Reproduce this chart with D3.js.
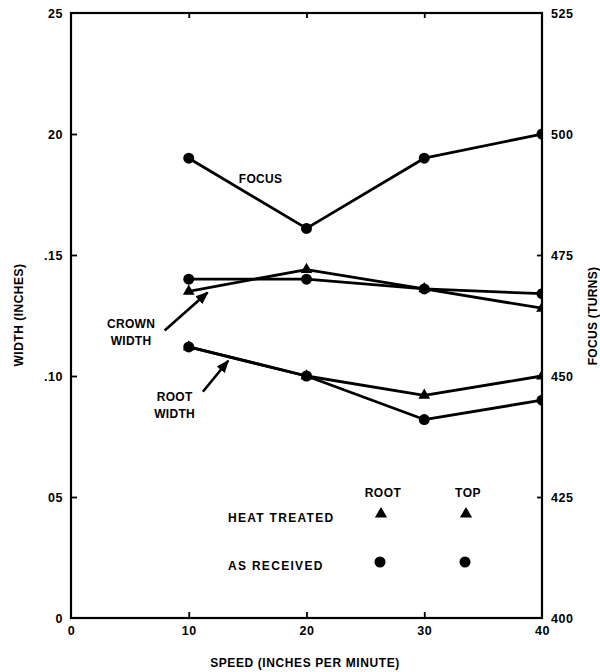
<!DOCTYPE html>
<html><head><meta charset="utf-8">
<script src="https://cdn.jsdelivr.net/npm/d3@7"></script>
<style>
html,body{margin:0;padding:0;background:#fff;}
text{font-family:"Liberation Sans",Arial,sans-serif;font-weight:bold;fill:#000;}
</style></head>
<body><svg id="c" width="600" height="672"></svg>
<script>
// ---- data ----
const speeds = [10, 20, 30, 40];
const focusTurns = [495, 480.5, 495, 500];
const crownAsReceived = [0.140, 0.140, 0.136, 0.134];
const crownHeatTreated = [0.135, 0.144, 0.136, 0.128];
const rootHeatTreated = [0.112, 0.100, 0.092, 0.100];
const rootAsReceived = [0.112, 0.100, 0.082, 0.090];
const xTicks = [0, 10, 20, 30, 40];
const widthTicks = [0, 0.05, 0.10, 0.15, 0.20, 0.25];
const widthTickLabels = ["0", "05", ".10", ".15", "20", "25"];
const focusTicks = [400, 425, 450, 475, 500, 525];
const legendCols = ["ROOT", "TOP"];
const legendRows = ["HEAT TREATED", "AS RECEIVED"];
const xTitle = "SPEED (INCHES PER MINUTE)";
const yTitle = "WIDTH (INCHES)";
const y2Title = "FOCUS (TURNS)";

// ---- layout ----
const L = 71, R = 542, T = 13, B = 618;
const svg = d3.select("#c");
const x = d3.scaleLinear().domain([0, 40]).range([L, R]);
const y = d3.scaleLinear().domain([0, 0.25]).range([B, T]);
const y2 = d3.scaleLinear().domain([400, 525]).range([B, T]);

// frame
svg.append("rect").attr("x", L).attr("y", T).attr("width", R - L).attr("height", B - T)
  .attr("fill", "none").attr("stroke", "#000").attr("stroke-width", 2.2);

function styleAxis(g) {
  g.select(".domain").remove();
  g.selectAll("line").attr("stroke", "#000").attr("stroke-width", 1.8);
  g.selectAll("text").style("font-size", "12.5px").style("letter-spacing", "0.5px").attr("font-family", null);
}
svg.append("g").attr("transform", `translate(${L},0)`)
  .call(d3.axisLeft(y).tickValues(widthTicks).tickFormat((d, i) => widthTickLabels[i]).tickSize(-6).tickPadding(8))
  .call(styleAxis);
svg.append("g").attr("transform", `translate(${R},0)`)
  .call(d3.axisRight(y2).tickValues(focusTicks).tickSize(-5).tickPadding(9))
  .call(styleAxis);
svg.append("g").attr("transform", `translate(0,${B})`)
  .call(d3.axisBottom(x).tickValues(xTicks).tickSize(-6).tickPadding(8))
  .call(styleAxis);
svg.append("g").attr("transform", `translate(0,${T})`)
  .call(d3.axisTop(x).tickValues([10, 20, 30]).tickSize(-5).tickFormat(""))
  .call(styleAxis);
svg.selectAll("g.tick").filter(d => d === 0 || d === 40 || d === 400 || d === 525 || d === 0.25).select("line").remove();

// titles
svg.append("text").attr("x", 305).attr("y", 667).attr("text-anchor", "middle")
  .style("font-size", "12px").style("letter-spacing", "0.6px").text(xTitle);
svg.append("text").attr("transform", "translate(23,315) rotate(-90)").attr("text-anchor", "middle")
  .style("font-size", "12px").style("letter-spacing", "0.5px").text(yTitle);
svg.append("text").attr("transform", "translate(597,316) rotate(-90)").attr("text-anchor", "middle")
  .style("font-size", "12px").style("letter-spacing", "0.3px").text(y2Title);

// clip for markers at right axis
svg.append("defs").append("clipPath").attr("id", "clip")
  .append("rect").attr("x", 0).attr("y", 0).attr("width", R).attr("height", 672);
const defs = svg.select("defs");
defs.append("marker").attr("id", "ah").attr("viewBox", "0 0 10 10").attr("refX", 9).attr("refY", 5)
  .attr("markerWidth", 5).attr("markerHeight", 5).attr("orient", "auto")
  .append("path").attr("d", "M0,1 L10,5 L0,9 Z").attr("fill", "#000");

const plot = svg.append("g").attr("clip-path", "url(#clip)");
const series = [
  {vals: focusTurns, scale: y2, shape: "circle"},
  {vals: crownAsReceived, scale: y, shape: "circle"},
  {vals: crownHeatTreated, scale: y, shape: "triangle"},
  {vals: rootHeatTreated, scale: y, shape: "triangle"},
  {vals: rootAsReceived, scale: y, shape: "circle"}
];
series.forEach(s => {
  const pts = speeds.map((sp, i) => [sp, s.vals[i]]);
  plot.append("path").datum(pts)
    .attr("d", d3.line().x(d => x(d[0])).y(d => s.scale(d[1])))
    .attr("fill", "none").attr("stroke", "#000").attr("stroke-width", 2.8).attr("stroke-linejoin", "round");
  if (s.shape === "circle") {
    plot.selectAll(null).data(pts).join("circle")
      .attr("cx", d => x(d[0])).attr("cy", d => s.scale(d[1])).attr("r", 5.5).attr("fill", "#000");
  } else {
    plot.selectAll(null).data(pts).join("path")
      .attr("transform", d => `translate(${x(d[0])},${s.scale(d[1])})`)
      .attr("d", d3.symbol().type(d3.symbolTriangle).size(60)).attr("fill", "#000");
  }
});

// annotations (data-space positions)
const annLabels = [
  {lines: ["FOCUS"], xv: 16.1, yv: 0.1815},
  {lines: ["CROWN", "WIDTH"], xv: 5.1, yv: 0.1215},
  {lines: ["ROOT", "WIDTH"], xv: 8.8, yv: 0.0915}
];
annLabels.forEach(a => {
  a.lines.forEach((t, i) => {
    svg.append("text").attr("x", x(a.xv)).attr("y", y(a.yv) + i * 17 + 4).attr("text-anchor", "middle")
      .style("font-size", "12px").style("letter-spacing", "0.3px").text(t);
  });
});
const arrows = [
  {x1: 7.95, y1: 0.1188, x2: 11.6, y2: 0.1345},
  {x1: 11.2, y1: 0.0935, x2: 13.35, y2: 0.1063}
];
arrows.forEach(a => {
  svg.append("line").attr("x1", x(a.x1)).attr("y1", y(a.y1)).attr("x2", x(a.x2)).attr("y2", y(a.y2))
    .attr("stroke", "#000").attr("stroke-width", 2.6).attr("marker-end", "url(#ah)");
});

// legend
const colX = [381, 466];
const rowY = [514, 562];
legendCols.forEach((c, i) => {
  svg.append("text").attr("x", colX[i] + 2).attr("y", 497).attr("text-anchor", "middle")
    .style("font-size", "12px").style("letter-spacing", "0.5px").text(c);
});
legendRows.forEach((r, j) => {
  svg.append("text").attr("x", 228).attr("y", rowY[j] + 8).style("font-size", "12px")
    .style("letter-spacing", "1.3px").text(r);
  colX.forEach(cx => {
    if (j === 0) {
      svg.append("path").attr("transform", `translate(${cx},${rowY[j]})`)
        .attr("d", d3.symbol().type(d3.symbolTriangle).size(65)).attr("fill", "#000");
    } else {
      svg.append("circle").attr("cx", cx - 1).attr("cy", rowY[j]).attr("r", 5.5).attr("fill", "#000");
    }
  });
});
</script></body></html>
